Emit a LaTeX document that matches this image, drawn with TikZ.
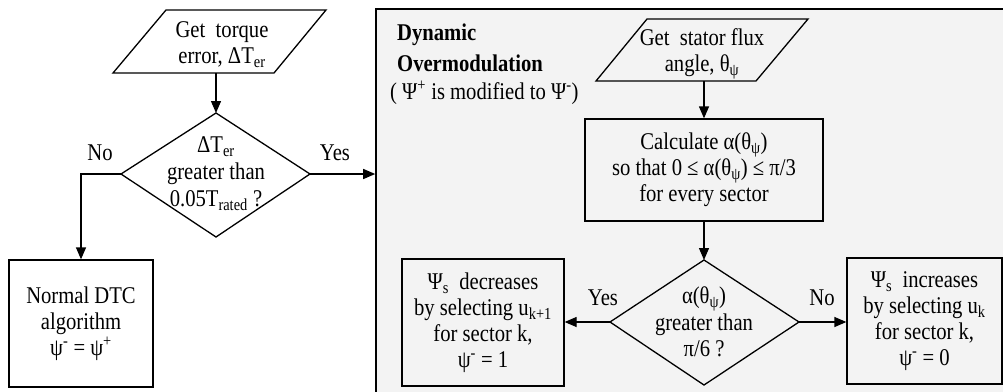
\documentclass[tikz,border=0pt]{standalone}
\usepackage{fontspec}
\setmainfont[FakeStretch=0.86]{Liberation Serif}
\usetikzlibrary{arrows.meta}
\definecolor{panelgray}{RGB}{243,243,243}
\newcommand{\sbs}[1]{\textsubscript{#1}}
\newcommand{\sps}[1]{\textsuperscript{#1}}
\begin{document}
\begin{tikzpicture}[x=1pt,y=-1pt,
  font=\fontsize{24}{26}\selectfont,
  ln/.style={line width=1.3pt},
  arr/.style={ln,-{Triangle[length=12pt,width=10pt]}},
  box/.style={draw,ln,rectangle,align=center,inner sep=0pt},
  txt/.style={align=center,inner sep=0pt},
  shp/.style={draw,ln,line join=miter}]
\path[use as bounding box] (0,0) rectangle (1003,391);
\begin{scope}
\clip (0,0) rectangle (1003,391);
\node[draw,line width=1.6pt,fill=panelgray,minimum width=634pt,minimum height=391pt,inner sep=0pt] (pan) at (693,204.5) {};
\end{scope}

% left column
\coordinate (p1a) at (166,10); \coordinate (p1b) at (326,10);
\coordinate (p1c) at (274,73); \coordinate (p1d) at (113,73);
\draw[shp] (p1a) -- (p1b) -- (p1c) -- (p1d) -- cycle;
\node[txt] (p1) at (222,45) {Get\ \ torque\\error, ΔT\sbs{er}};
\coordinate (p1s) at (216,73);

\coordinate (d1t) at (216,113); \coordinate (d1r) at (310,174);
\coordinate (d1b) at (216,237); \coordinate (d1l) at (121,174);
\draw[shp] (d1t) -- (d1r) -- (d1b) -- (d1l) -- cycle;
\node[txt,font=\fontsize{24}{27}\selectfont] (d1) at (216,174) {ΔT\sbs{er}\\greater than\\0.05T\sbs{rated} ?};

\node[box,minimum width=144pt,minimum height=127pt] (n1) at (81,323.5) {Normal DTC\\algorithm\\ψ\sps{-} = ψ\sps{+}};

\draw[arr] (p1s) -- (d1t);
\draw[arr] (d1l) -| (n1.north);
\draw[arr] (d1r) -- (d1r -| pan.west);
\node[txt] (no1) at (100,153) {No};
\node[txt] (yes1) at (335,153) {Yes};

% panel content
\node[txt,anchor=west,font=\fontsize{24}{26}\selectfont\bfseries] (dyn) at (397,35) {Dynamic};
\node[txt,anchor=west,font=\fontsize{24}{26}\selectfont\bfseries] (ovm) at (397,63) {Overmodulation};
\node[txt,anchor=west] (mod) at (390,93) {( Ψ\sps{+} is modified to Ψ\sps{-})};

\coordinate (p2a) at (647,19); \coordinate (p2b) at (808,19);
\coordinate (p2c) at (756,81); \coordinate (p2d) at (596,81);
\draw[shp] (p2a) -- (p2b) -- (p2c) -- (p2d) -- cycle;
\node[txt] (p2) at (702,54) {Get\ \ stator flux\\angle, θ\sbs{ψ}};
\coordinate (p2s) at (704,81);

\node[box,minimum width=238pt,minimum height=102pt] (calc) at (704,170) {Calculate α(θ\sbs{ψ})\\so that 0 ≤ α(θ\sbs{ψ}) ≤ π/3\\for every sector};

\coordinate (d2t) at (704,260); \coordinate (d2r) at (799,322);
\coordinate (d2b) at (704,385); \coordinate (d2l) at (610,322);
\draw[shp] (d2t) -- (d2r) -- (d2b) -- (d2l) -- cycle;
\node[txt,font=\fontsize{24}{26.5}\selectfont] (d2) at (704,322) {α(θ\sbs{ψ})\\greater than\\π/6 ?};

\node[box,minimum width=162pt,minimum height=127pt] (bl) at (483,322.5) {Ψ\sbs{s}\ \ decreases\\by selecting u\sbs{k+1}\\for sector k,\\ψ\sps{-} = 1};
\node[box,minimum width=155pt,minimum height=126pt] (br) at (924.5,321) {Ψ\sbs{s}\ \ increases\\by selecting u\sbs{k}\\for sector k,\\ψ\sps{-} = 0};

\draw[arr] (p2s) -- (p2s |- calc.north);
\draw[arr] (calc.south -| d2t) -- (d2t);
\draw[arr] (d2l) -- (d2l -| bl.east);
\draw[arr] (d2r) -- (d2r -| br.west);
\node[txt] (yes2) at (603,298) {Yes};
\node[txt] (no2) at (822,298) {No};
\end{tikzpicture}
\end{document}
